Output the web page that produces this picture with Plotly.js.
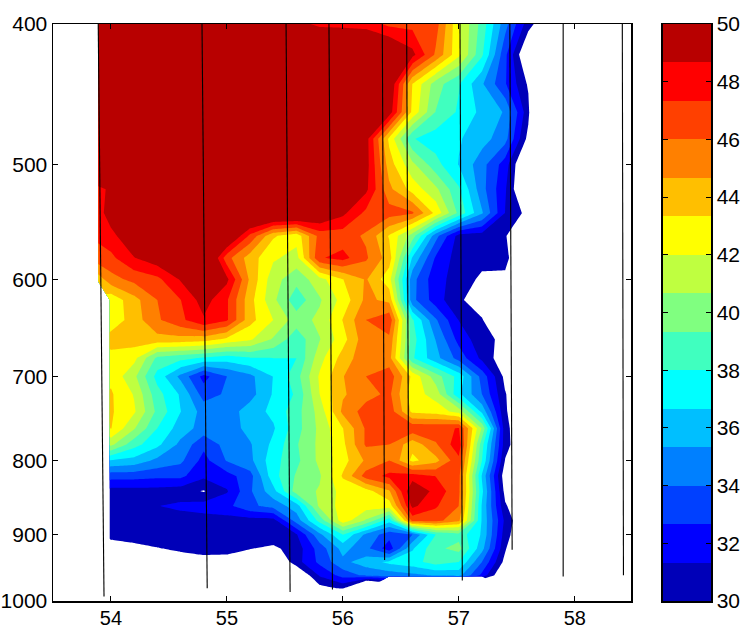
<!DOCTYPE html>
<html><head><meta charset="utf-8">
<script src="https://cdn.plot.ly/plotly-3.0.1.min.js"></script>
<style>html,body{margin:0;padding:0;background:#fff}#c{width:742px;height:629px}</style>
</head><body><div id="c"></div>
<script>
const lon = [53.89,54,54.2,54.4,54.6,54.8,55,55.2,55.4,55.6,55.8,56,56.2,56.4,56.6,56.8,57,57.2,57.4,57.6,57.8];
const depth = [400,420,440,460,480,500,520,540,560,580,600,620,640,660,680,700,720,740,760,780,800,820,840,860,880,900,920,940,960,980,1000];
const N = NaN;
const field = [
[52,52,52,52,52,52,52,52,52,49.2,48.3,48.2,48,47,46.9,46.6,42.2,38.8,34.5,30.6,28],
[52,52,52,52,52,52,52,52,52,52,52,52,52,51,49.1,45.8,42.3,38.2,33,28,20],
[52,52,52,52,52,52,52,52,52,52,52,52,52,50.2,43.3,40,38.1,35.5,32.8,29.8,20],
[52,52,52,52,52,52,52,52,52,52,52,52,52,49.5,43,39.3,37.8,36.3,35.2,30.4,20],
[52,52,52,52,52,52,52,52,52,52,52,52,49.3,43,38.1,37.3,36.8,35.9,34.5,29.5,20],
[52,52,52,52,52,52,52,52,52,52,52,52,49.3,44,41,38.5,36.6,34.5,32,27.5,20],
[48.2,49,52,52,52,52,52,52,52,52,52,52,49,45,42.8,41,38.2,34.5,31.5,27.5,20],
[48,49.5,52,52,52,52,52,52,52,52,50.5,49,47,46.6,46.2,43,39,35.5,31.3,29.5,20],
[47.6,48.2,50,51,52,52,51,47,43.5,42.5,46.5,46.6,45.8,43.2,40,34.5,30.8,30.7,30.6,20,20],
[46.8,47,48.6,49.6,51,52,46.5,44,42.2,41.5,47.2,47.8,46.2,44,36.5,32.5,30.7,30.5,30.4,28,20],
[44,45.5,46.4,47,48.8,52,49,44.4,41.2,39.8,41.5,43.3,44.8,42.5,34.5,31.8,30.8,29.7,29.7,20,20],
[N,42.4,44.2,46,47.3,49.3,47.5,43.8,41,38.5,40.5,42.5,45,44.3,34.4,32,30.2,29.3,20,20,20],
[N,42.4,44,45.8,47,48.5,47.5,43.8,42,40,41,43.4,46,47,38.2,34.2,31.3,30.1,28,20,20],
[N,44,44,44.2,44.2,44,43,42.2,40.5,38.5,40.6,42.8,45.6,45.7,38.6,35.3,32.2,30.5,29.6,20,20],
[N,42.8,42.4,39,38.4,37.8,37.3,37.9,38,38,41.5,43.9,45.6,45.2,38.2,35.8,33.5,31,29,20,20],
[N,43,41,37.5,35,32.2,34,35,36.7,38.8,42.2,44.6,46,46.8,43,40,37.5,33.5,29.6,20,20],
[N,43.5,41.9,38.5,36.5,33.4,34.2,34.8,36.8,38.2,42,44.5,45.5,46.3,42.6,41.5,37,34,30.1,28,20],
[N,43.5,42.2,39,36.7,34.8,34.6,36,37,38.8,41.2,45,46.6,46.8,43,42.7,41.5,36.3,30.2,28,20],
[N,43.4,40.8,38,36,34.8,34.6,35.8,36.5,38.8,41,43.3,46.2,47,47,47,47.4,40.5,30.5,28,20],
[N,41,38.5,37,35,33,34.5,35.2,37,39.2,41,43,46.2,46,43.8,45.8,48.2,38.5,30.6,28,20],
[N,36.6,36.2,35,34.3,32.2,34.1,35,37.5,39,41,42.8,44.9,46,43,44.2,47,38,29.9,20,20],
[N,33.2,33.2,33,33,31.6,32.1,33.5,37.5,39.5,40.5,43.5,46.6,47.7,48,47.3,46.4,36.5,29,20,20],
[N,30.8,30.8,30.8,30.6,29.9,31.2,33.8,36.2,40,40.8,42.5,42.8,44.5,50,48.2,46.3,37,29.5,20,20],
[N,31,31,31.3,31.6,31.9,32.3,33.7,34.5,36,41,42.5,42.6,42.6,49,47.5,46,36.5,30.2,28,20],
[N,30.8,30.8,30.8,30.8,30.8,30.8,30.8,30.8,34.6,38.5,42.8,40.5,37.2,46.5,46.5,45,36.5,31,28,20],
[N,30.5,30.5,30.7,30.8,30.8,30.8,30.8,30.8,31.2,35,38,35,33.2,34,38,38.8,36.5,30.6,28,20],
[N,29.15,29.67,29.94,30.2,30.5,30.4,30.05,29.72,30.6,33.3,35.8,34.4,31.9,36.5,39,39.8,35.8,30.2,26,20],
[N,25,25,28,29.4,29.46,29.5,29,28,30.8,33,35,36,37,37.5,38.6,38,34,29.5,20,20],
[N,20,20,20,20,20,20,20,20,28.1,31.5,33.2,34.3,34.6,35,35.5,35.8,32.3,28,20,20],
[N,20,20,20,20,20,20,20,20,20,29.5,30.2,24,N,N,N,N,N,20,20,20],
[N,20,20,20,20,20,20,20,20,20,20,20,20,20,20,20,20,20,20,20,20]
];
const trackTopLon = [53.89,54.785,55.51,55.88,56.34,56.55,57.01,57.44,57.9,58.41];
const trackEndLon = [53.94,54.83,55.545,55.91,56.36,56.57,57.03,57.46,57.9,58.42];
const trackEndDepth = [993,980,986,982,937,962,968,922,962,960];
const bandEdges = [30,31.333,32.667,34,35.333,36.667,38,39.333,40.667,42,43.333,44.667,46,47.333,48.667,50];
const bandColors = ['#0000b8','#0000ff','#0040ff','#0080ff','#00bfff','#00ffff','#40ffbf','#80ff80','#bfff40','#ffff00','#ffbf00','#ff8000','#ff4000','#ff0000','#b80000'];
const barTicks = [30,32,34,36,38,40,42,44,46,48,50];
const lonTicks = [54,55,56,57,58];
const depthTicks = [400,500,600,700,800,900,1000];

const scale = ['#ffffff'].concat(bandColors).map((c,i)=>[i/15,c]);
const traces = [{
  type:'contour', x:lon, y:depth, z:field, connectgaps:false, autocontour:false,
  contours:{start:30,end:48.67,size:4/3,coloring:'fill',showlines:false},
  line:{width:0,smoothing:0}, colorscale:scale, showscale:false, hoverinfo:'skip'
}];
trackTopLon.forEach((x0,i)=>traces.push({
  type:'scatter',mode:'lines',x:[x0,trackEndLon[i]],y:[400,trackEndDepth[i]],
  line:{color:'#000',width:1.1},showlegend:false,hoverinfo:'skip'
}));
traces.push({
  type:'heatmap',xaxis:'x2',yaxis:'y2',x:[0,1],y:bandEdges,
  z:bandColors.map((c,i)=>[i+1]),zmin:0,zmax:15,colorscale:scale,showscale:false,hoverinfo:'skip'
});
const font={family:'"Liberation Sans",Arial,sans-serif',size:21,color:'#000'};
const xfont={family:'"Liberation Sans",Arial,sans-serif',size:20,color:'#000'};
const W=742,H=629;
const layout={
  width:W,height:H,margin:{l:0,r:0,t:0,b:0},paper_bgcolor:'#fff',plot_bgcolor:'#fff',showlegend:false,font,
  xaxis:{domain:[53/W,631/W],range:[53.5,58.485],tickvals:lonTicks,ticktext:lonTicks.map(String),ticks:'inside',ticklen:5,tickwidth:1,tickcolor:'#000',
    showline:true,linecolor:'#000',linewidth:1.5,mirror:'ticks',showgrid:false,zeroline:false,anchor:'y',tickfont:xfont,ticklabelstandoff:-2},
  yaxis:{domain:[1-601/H,1-24/H],type:'log',range:[3,Math.log10(400)],tickvals:depthTicks,ticktext:depthTicks.map(String),ticks:'inside',ticklen:5,tickwidth:1,tickcolor:'#000',
    showline:true,linecolor:'#000',linewidth:1.5,mirror:'ticks',showgrid:false,zeroline:false,anchor:'x',tickfont:font},
  xaxis2:{domain:[662.5/W,711/W],range:[0,1],showticklabels:false,ticks:'',showline:true,linecolor:'#000',linewidth:1.5,mirror:true,showgrid:false,zeroline:false,anchor:'y2'},
  yaxis2:{domain:[1-601/H,1-24/H],range:[30,50],side:'right',tickvals:barTicks,ticktext:barTicks.map(String),ticks:'inside',ticklen:5,tickwidth:1,tickcolor:'#000',
    showline:true,linecolor:'#000',linewidth:1.5,mirror:'ticks',showgrid:false,zeroline:false,anchor:'x2',tickfont:font}
};
Plotly.newPlot('c',traces,layout,{displayModeBar:false,staticPlot:true});
</script></body></html>
